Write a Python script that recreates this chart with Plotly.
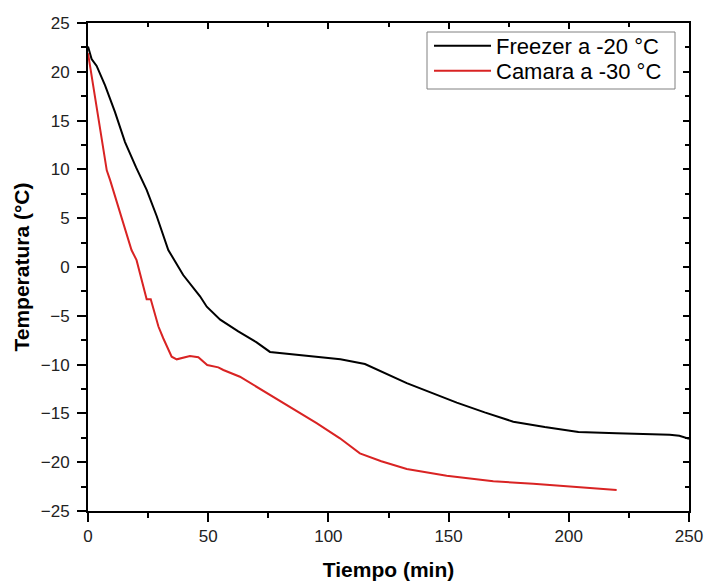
import plotly.graph_objects as go

# Freezer a -20 °C
t_freezer = [0, 1.5, 3.6, 7.1, 11.2, 15.4, 20, 24.4, 28.6, 33.4, 39.6, 46.6, 49.4, 55, 62.5,
             70, 75.7, 85, 96.5, 105, 115.2, 124, 132.6, 143, 153.4, 165, 176.9, 190, 204,
             219.9, 232, 242, 246, 250]
T_freezer = [22.6, 21.3, 20.6, 18.6, 15.9, 12.8, 10.2, 7.9, 5.2, 1.74, -0.82, -3.0, -4.07, -5.4, -6.6,
             -7.7, -8.7, -8.95, -9.26, -9.46, -9.94, -10.9, -11.9, -12.9, -13.9, -14.9, -15.85, -16.4, -16.9,
             -17.04, -17.1, -17.18, -17.3, -17.6]

# Camara a -30 °C
t_camara = [0, 1.1, 2.9, 5.7, 7.8, 9.2, 12.5, 16.1, 18.1, 20.2, 22.3, 24.4, 26.1, 27.9, 29.3,
            31.3, 34.8, 36.9, 42.4, 45.9, 49.6, 54.2, 56.3, 63.2, 75.7, 85, 95.1, 104.8, 113.1,
            122, 132.6, 149.2, 168.6, 185.2, 200, 219.9]
T_camara = [21.9, 20.2, 17.3, 12.8, 9.9, 8.9, 6.2, 3.45, 1.74, 0.7, -1.3, -3.31, -3.31, -4.75, -6.1,
            -7.3, -9.19, -9.46, -9.12, -9.25, -10.04, -10.28, -10.55, -11.24, -13.1, -14.5, -16.0, -17.55, -19.1,
            -19.9, -20.7, -21.4, -21.96, -22.2, -22.5, -22.85]

series_names = ["Freezer a -20 °C", "Camara a -30 °C"]
series_colors = ["#000000", "#d92323"]

x_range = [0, 250]
y_range = [-25, 25]
x_tickvals = [0, 50, 100, 150, 200, 250]
y_tickvals = [25, 20, 15, 10, 5, 0, -5, -10, -15, -20, -25]

FONT = "Arial, Liberation Sans, sans-serif"

fig = go.Figure()
fig.add_trace(go.Scatter(x=t_freezer, y=T_freezer, mode="lines", name=series_names[0],
                         line=dict(color=series_colors[0], width=2), legend="legend"))
fig.add_trace(go.Scatter(x=t_camara, y=T_camara, mode="lines", name=series_names[1],
                         line=dict(color=series_colors[1], width=2), legend="legend2"))
# invisible trace for mirrored (top/right) axes with inside ticks
fig.add_trace(go.Scatter(x=[None], y=[None], xaxis="x2", yaxis="y2", showlegend=False,
                         hoverinfo="skip", mode="lines"))

# legend frame (page px -> paper)
L, R, T, B = 88, 689, 23, 511
def px_x(p):
    return (p - L) / (R - L)
def px_y(p):
    return 1 - (p - T) / (B - T)

leg_font = dict(family=FONT, size=22, color="black")
fig.add_shape(type="rect", xref="paper", yref="paper",
              x0=px_x(427), x1=px_x(675), y0=px_y(89), y1=px_y(32),
              line=dict(color="#808080", width=1), fillcolor="white", layer="above")

fig.update_layout(
    width=705, height=581,
    margin=dict(l=88, r=16, t=23, b=70),
    paper_bgcolor="white", plot_bgcolor="white",
    font=dict(family=FONT, color="black"),
    showlegend=True,
    legend=dict(x=px_x(429), y=px_y(46), xanchor="left", yanchor="middle",
                bgcolor="rgba(0,0,0,0)", borderwidth=0, font=leg_font, itemwidth=57),
    legend2=dict(x=px_x(429), y=px_y(71), xanchor="left", yanchor="middle",
                 bgcolor="rgba(0,0,0,0)", borderwidth=0, font=leg_font, itemwidth=57),
    xaxis=dict(range=x_range, tickvals=x_tickvals, showgrid=False, zeroline=False,
               showline=True, linecolor="black", linewidth=2,
               ticks="outside", ticklen=9, tickwidth=2, tickcolor="black",
               minor=dict(ticks="outside", ticklen=5, tickwidth=2, dtick=25, tickcolor="black"),
               tickfont=dict(family=FONT, size=17, color="#222"),
               title=dict(text="<b>Tiempo (min)</b>", font=dict(family=FONT, size=21, color="black"),
                          standoff=17),
               automargin=False),
    yaxis=dict(range=y_range, tickvals=y_tickvals, showgrid=False, zeroline=False,
               showline=True, linecolor="black", linewidth=2,
               ticks="outside", ticklen=9, tickwidth=2, tickcolor="black", ticklabelstandoff=4,
               minor=dict(ticks="outside", ticklen=5, tickwidth=2, dtick=2.5, tickcolor="black"),
               tickfont=dict(family=FONT, size=17, color="#222"),
               title=dict(text="<b>Temperatura (°C)</b>", font=dict(family=FONT, size=21, color="black"),
                          standoff=5),
               automargin=False),
    xaxis2=dict(range=x_range, tickvals=x_tickvals, overlaying="x", side="top", anchor="y",
                showgrid=False, zeroline=False, showline=True, linecolor="black", linewidth=2,
                ticks="inside", ticklen=6, tickwidth=2, tickcolor="black",
                minor=dict(ticks="inside", ticklen=4, tickwidth=2, dtick=25, tickcolor="black"),
                showticklabels=False, automargin=False),
    yaxis2=dict(range=y_range, tickvals=y_tickvals, overlaying="y", side="right", anchor="x",
                showgrid=False, zeroline=False, showline=True, linecolor="black", linewidth=2,
                ticks="inside", ticklen=6, tickwidth=2, tickcolor="black",
                minor=dict(ticks="inside", ticklen=4, tickwidth=2, dtick=2.5, tickcolor="black"),
                showticklabels=False, automargin=False),
)

fig.write_html("out.html", config={"displayModeBar": False},
               post_script="document.body.style.margin='0px';")
